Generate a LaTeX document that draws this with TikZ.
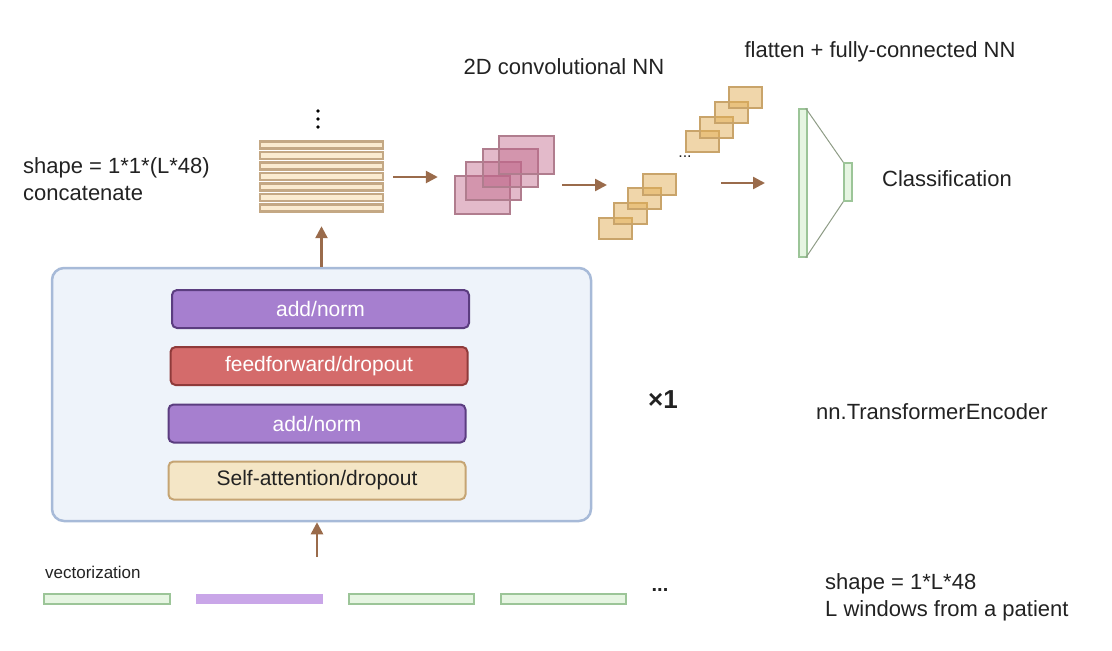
\documentclass[tikz,border=0pt]{standalone}
\usepackage{fontspec}
\setmainfont{Liberation Sans}
\usetikzlibrary{arrows.meta}

\definecolor{textc}{HTML}{222222}
\definecolor{encfill}{HTML}{EEF3FA}
\definecolor{encdraw}{HTML}{A7BAD8}
\definecolor{purpfill}{HTML}{A67FCF}
\definecolor{purpdraw}{HTML}{5B3D80}
\definecolor{redfill}{HTML}{D46B6B}
\definecolor{reddraw}{HTML}{8F3A3A}
\definecolor{yelfill}{HTML}{F4E6C6}
\definecolor{yeldraw}{HTML}{C5A473}
\definecolor{arrc}{HTML}{9A6B4B}
\definecolor{stripfill}{HTML}{FBEBCF}
\definecolor{stripdraw}{HTML}{C4A884}
\definecolor{convfill}{HTML}{C0678A}
\definecolor{convdraw}{HTML}{B07D8E}
\definecolor{mapfill}{HTML}{E2AE55}
\definecolor{mapdraw}{HTML}{C9A46A}
\definecolor{fcfill}{HTML}{E6F5E2}
\definecolor{fcdraw}{HTML}{9CC598}
\definecolor{fcline}{HTML}{8E9C86}
\definecolor{vecpurp}{HTML}{C9A6E8}

\tikzstyle{block}=[rectangle,rounded corners=5pt,line width=2pt,minimum width=297pt,minimum height=38pt,inner sep=0pt,font=\fontsize{21}{25}\selectfont]
\tikzstyle{blockp}=[block,fill=purpfill,draw=purpdraw,text=white]
\tikzstyle{blockr}=[block,fill=redfill,draw=reddraw,text=white]
\tikzstyle{blocky}=[block,fill=yelfill,draw=yeldraw,text=textc]
\tikzstyle{encbox}=[rectangle,rounded corners=12pt,line width=2.5pt,fill=encfill,draw=encdraw,minimum width=539pt,minimum height=253pt,inner sep=0pt]
\tikzstyle{arr}=[-{Triangle[length=12pt,width=12pt]},line width=2.5pt,draw=arrc,fill=arrc]
\tikzstyle{lbl}=[font=\fontsize{22}{27}\selectfont,text=textc,inner sep=0pt]
\tikzstyle{lblsmall}=[font=\fontsize{17}{20}\selectfont,text=textc,inner sep=0pt]
\tikzstyle{fcbox}=[rectangle,fill=fcfill,draw=fcdraw,line width=1.5pt,inner sep=0pt]

\begin{document}
\begin{tikzpicture}[x=1pt,y=-1pt]
    \useasboundingbox (0,0) rectangle (1112,651);

    % transformer encoder
    \node[encbox] (enc) at (321.5,394.5) {};
    \node[blockp] (an1) at (320.5,309) {add/norm};
    \node[blockr] (ff)  at (319,366)   {feedforward/dropout};
    \node[blockp] (an2) at (317,423.5) {add/norm};
    \node[blocky] (sa)  at (317,480.5) {Self-attention/dropout};
    \node[font=\fontsize{26}{30}\selectfont\bfseries,text=textc] (rep) at (663,400) {×1};
    \node[lbl,anchor=west] (enclbl) at (816,412) {nn.TransformerEncoder};

    % input vectors
    \node[lblsmall,anchor=west] (veclbl) at (45,572) {vectorization};
    \foreach \xa/\xb in {44/170,349/474,501/626}
        \draw[fill=fcfill,draw=fcdraw,line width=1.5pt] (\xa,594) rectangle (\xb,604);
    \fill[vecpurp] (196,594) rectangle (323,604);
    \node[font=\fontsize{20}{24}\selectfont\bfseries,text=textc] (vecdots) at (660,590) {...};
    \node[lbl,anchor=west,align=left] (inlbl) at (825,597) {shape = 1*L*48\\L windows from a patient};
    \coordinate (vin) at (317,557);
    \draw[arr] (vin) -- (vin |- enc.south);

    % concatenated output
    \node[minimum width=125pt,minimum height=72pt,inner sep=0pt] (stack) at (321.5,177) {};
    \foreach \i in {0,...,6}
        \draw[fill=stripfill,draw=stripdraw,line width=2.5pt] (260,141.5+\i*10.5) rectangle (383,148.5+\i*10.5);
    \foreach \y in {111,119,127}
        \fill (318,\y) circle (1.8);
    \node[lbl,anchor=west,align=left] (catlbl) at (23,179) {shape = 1*1*(L*48)\\concatenate};
    \draw[arr,shorten >=13pt] (enc.north) -- (stack.south);

    % 2D conv
    \node[minimum width=99pt,minimum height=78pt,inner sep=0pt] (conv) at (504.5,175) {};
    \foreach \x/\y in {455/176,466/162,483/149,499/136}
        \draw[fill=convfill,fill opacity=0.45,draw=convdraw,line width=1.5pt] (\x,\y) rectangle ++(55,38);
    \node[lbl] (convlbl) at (564,67) {2D convolutional NN};
    \draw[arr,shorten <=9pt,shorten >=17pt] (stack.east) -- (stack.east -| conv.west);

    % feature maps
    \foreach \x/\y in {599/218,614/203,628/188,643/174,686/131,700/117,715/102,729/87}
        \draw[fill=mapfill,fill opacity=0.5,draw=mapdraw,line width=1.5pt] (\x,\y) rectangle ++(33,21);
    \node[font=\fontsize{16}{20}\selectfont,text=textc] (mapdots) at (685,157) {...};
    \coordinate (c2a) at (562,185);
    \coordinate (c2b) at (607,185);
    \draw[arr] (c2a) -- (c2b);

    % flatten + fc
    \node[fcbox,minimum width=8pt,minimum height=148pt] (fcbig) at (803,183) {};
    \node[fcbox,minimum width=8pt,minimum height=38pt] (fcsmall) at (848,182) {};
    \draw[fcline,line width=1pt] ([xshift=-2pt]fcbig.north east) -- (fcsmall.north west);
    \draw[fcline,line width=1pt] ([xshift=-2pt]fcbig.south east) -- (fcsmall.south west);
    \node[lbl] (fclbl) at (880,52) {flatten + fully-connected NN};
    \node[lbl,anchor=west] (cls) at (882,179) {Classification};
    \coordinate (c3a) at (721,183);
    \coordinate (c3b) at (765,183);
    \draw[arr] (c3a) -- (c3b);
\end{tikzpicture}
\end{document}
